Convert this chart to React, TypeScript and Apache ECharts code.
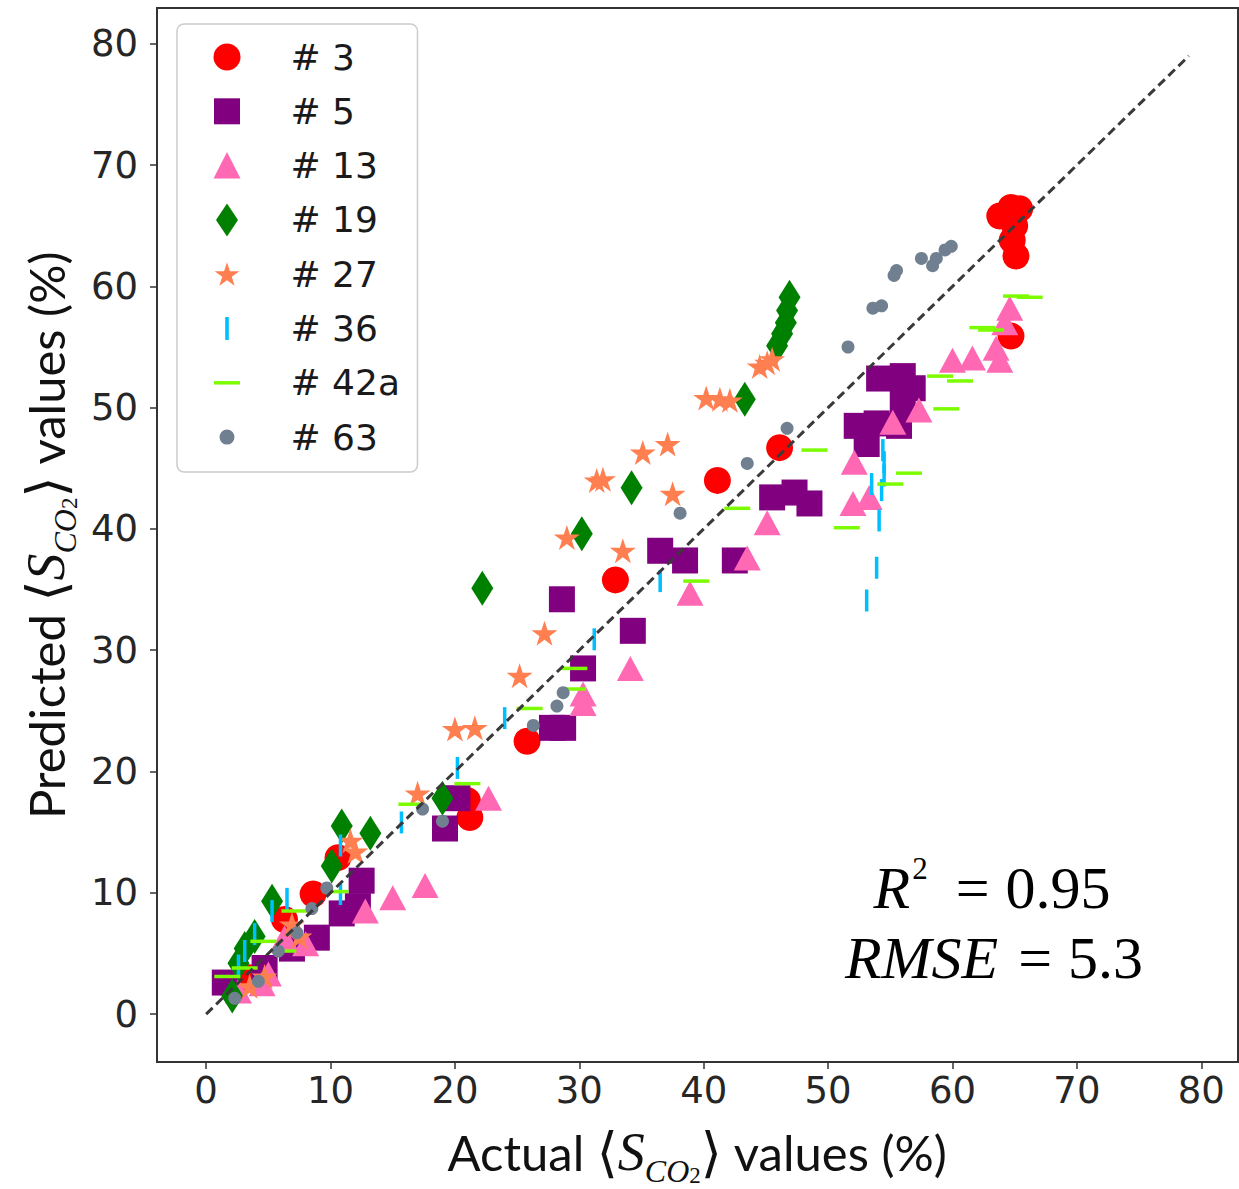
import React, { useEffect, useRef } from "react";
import * as echarts from "echarts";

// ---------------- data ----------------
const tickValues = [0, 10, 20, 30, 40, 50, 60, 70, 80];
const axisMin = -3.95;
const axisMax = 82.95;
const diagonal = [[0, 0], [79, 79]];

const names = ["# 3", "# 5", "# 13", "# 19", "# 27", "# 36", "# 42a", "# 63"];
const colors = ["#ff0000", "#800080", "#ff69b4", "#008000", "#ff7f50", "#00bfff", "#7cfc00", "#708090"];

const s3 = [
  [63.8, 65.8], [64.7, 66.5], [65.4, 66.4], [65.0, 65.0], [64.8, 63.8], [65.1, 62.5], [64.7, 55.9],
  [46.1, 46.7], [41.1, 44.0], [32.9, 35.8], [25.8, 22.5], [21.2, 16.2], [21.0, 17.6],
  [10.6, 12.9], [8.6, 9.9], [6.3, 7.8], [3.5, 3.0],
];
const s5 = [
  [54.1, 52.4], [56.0, 52.6], [56.8, 51.6], [56.0, 50.6], [52.3, 48.5], [53.9, 48.7], [53.1, 47.0], [55.7, 48.5],
  [45.5, 42.6], [47.3, 43.0], [48.5, 42.1], [36.5, 38.2], [38.5, 37.4], [42.5, 37.4],
  [28.6, 34.2], [34.3, 31.6], [30.3, 28.5], [27.8, 23.6], [28.7, 23.6], [20.2, 17.8], [19.2, 15.3],
  [12.5, 11.0], [12.2, 8.9], [10.9, 8.3], [8.9, 6.3], [6.9, 5.4], [4.7, 3.8], [1.5, 2.6],
];
const s13 = [
  [64.6, 58.2], [64.2, 57.0], [63.8, 53.9], [63.5, 54.9], [61.6, 54.1], [60.0, 53.9], [57.3, 49.8], [55.2, 48.8],
  [52.1, 45.5], [52.0, 42.1], [53.3, 42.6], [45.1, 40.5], [43.5, 37.6], [38.9, 34.7], [34.1, 28.5],
  [30.3, 26.4], [30.3, 25.6], [22.7, 17.8], [17.6, 10.6], [15.0, 9.6], [12.8, 8.5], [8.0, 5.8],
  [6.3, 6.3], [5.0, 3.3], [4.5, 2.5], [2.6, 1.9],
];
const s19 = [
  [46.9, 59.1], [46.7, 58.0], [46.6, 57.0], [46.3, 56.1], [45.9, 55.1], [43.3, 50.7], [34.2, 43.4],
  [30.2, 39.6], [22.2, 35.1], [19.0, 17.8], [13.2, 14.9], [10.9, 15.5], [10.1, 12.2], [5.3, 9.3],
  [3.9, 6.4], [3.1, 5.4], [2.6, 4.2], [2.1, 1.5],
];
const s27 = [
  [45.5, 54.0], [45.1, 53.7], [44.5, 53.4], [40.2, 50.8], [41.3, 50.7], [42.1, 50.6], [37.1, 47.0],
  [35.1, 46.3], [37.5, 42.9], [31.4, 44.0], [31.9, 44.1], [29.0, 39.3], [33.5, 38.2], [27.2, 31.4],
  [25.2, 27.9], [20.0, 23.5], [21.6, 23.6], [17.0, 18.2], [12.0, 13.4], [11.6, 14.3], [6.9, 7.4],
  [7.5, 6.4], [4.7, 3.1], [3.5, 2.3],
];
const s36 = [
  [54.4, 46.5], [54.5, 45.5], [54.5, 44.4], [54.3, 43.2], [53.5, 43.7], [54.1, 40.7], [53.9, 36.8],
  [53.1, 34.1], [36.5, 35.7], [31.2, 30.9], [24.0, 24.4], [20.2, 20.3], [15.7, 15.8], [10.8, 13.9],
  [10.8, 9.9], [6.5, 9.5], [5.3, 8.5], [3.9, 6.6], [3.1, 5.2], [2.6, 4.0],
];
const s42a = [
  [65.1, 59.2], [66.2, 59.1], [62.4, 56.6], [63.1, 56.4], [59.0, 52.6], [60.6, 52.2], [59.5, 49.9],
  [56.5, 44.6], [55.0, 43.7], [51.5, 40.1], [48.9, 46.5], [42.7, 41.7], [39.4, 35.7], [29.6, 28.5],
  [29.5, 26.8], [26.0, 25.2], [21.0, 19.0], [16.5, 17.3], [10.4, 10.1], [7.1, 8.5], [6.2, 5.2],
  [4.6, 6.0], [3.1, 3.8], [1.7, 3.1],
];
const s63 = [
  [51.6, 55.0], [53.6, 58.2], [54.3, 58.4], [55.3, 60.9], [55.5, 61.3], [57.5, 62.3], [58.4, 61.7],
  [58.7, 62.3], [59.4, 63.0], [59.9, 63.3], [46.7, 48.3], [43.5, 45.4], [38.1, 41.3], [28.7, 26.5],
  [28.2, 25.4], [26.3, 23.8], [17.4, 16.9], [19.0, 15.9], [9.7, 10.4], [8.5, 8.7], [7.3, 6.7],
  [5.8, 5.2], [4.2, 2.7], [2.3, 1.3],
];
const seriesData = [s3, s5, s13, s19, s27, s36, s42a, s63];

// ---------------- symbols ----------------
function starPts(cx: number, cy: number, R: number, r: number) {
  const parts: string[] = [];
  for (let i = 0; i < 10; i++) {
    const a = (-90 + i * 36) * Math.PI / 180;
    const rad = i % 2 === 0 ? R : r;
    const x = (cx + rad * Math.cos(a)).toFixed(3);
    const y = (cy + rad * Math.sin(a)).toFixed(3);
    parts.push((i === 0 ? "M" : "L") + x + " " + y);
  }
  return parts.join("") + "Z";
}
const starSymbol = "path://" + starPts(0, 0, 10, 3.82);
const vlineSymbol = "path://M0 0H1V10H0Z";
const hlineSymbol = "path://M0 0H10V1H0Z";

const symbols: any[] = ["circle", "rect", "triangle", "diamond", starSymbol, vlineSymbol, hlineSymbol, "circle"];
const symbolSizes: any[] = [27, 26, [27, 25], [22, 35], [26, 25], [3.5, 22], [26, 3.5], 13];

// legend icon box: 72 x 33, glyph drawn in the left 27px
const anchor = "M0 0M72 33";
const legendIcons = [
  "M0 16.5A13.5 13.5 0 1 1 27 16.5A13.5 13.5 0 1 1 0 16.5Z",
  "M0.5 3.5H26.5V29.5H0.5Z",
  "M13.5 3L27 29.5H0Z",
  "M13.5 0L24.5 16.5L13.5 33L2.5 16.5Z",
  starPts(13.5, 17.5, 13, 5),
  "M11.7 5H15.3V28H11.7Z",
  "M0.5 14.75H26.5V18.25H0.5Z",
  "M6 16.5A7.5 7.5 0 1 1 21 16.5A7.5 7.5 0 1 1 6 16.5Z",
].map((p) => "path://" + anchor + p);

// ---------------- text styles ----------------
function titleRich(size: number) {
  return {
    t: { fontFamily: "Lato", fontSize: size, color: "#111", lineHeight: 70 },
    b: { fontFamily: "DejaVu Sans", fontSize: 54, color: "#111", lineHeight: 70 },
    s: { fontFamily: "Liberation Serif", fontStyle: "italic", fontSize: 54, color: "#111", lineHeight: 70 },
    c: { fontFamily: "Liberation Serif", fontStyle: "italic", fontSize: 32, color: "#111", lineHeight: 36, verticalAlign: "bottom" },
    n: { fontFamily: "Liberation Serif", fontSize: 23, color: "#111", lineHeight: 17, verticalAlign: "bottom" },
  };
}

function annRich(leftGap: number, rightGap: number) {
  return {
    i: { fontFamily: "Liberation Serif", fontStyle: "italic", fontSize: 60, color: "#000", lineHeight: 70 },
    p: { fontFamily: "Liberation Serif", fontSize: 31, color: "#000", lineHeight: 52, verticalAlign: "top", padding: [0, 0, 0, 2] },
    e: { fontFamily: "Liberation Serif", fontSize: 60, color: "#000", lineHeight: 70, padding: [0, rightGap, 0, leftGap] },
    n: { fontFamily: "Liberation Serif", fontSize: 60, color: "#000", lineHeight: 70 },
  };
}

export default function App() {
  const ref = useRef<HTMLDivElement>(null);
  useEffect(() => {
    if (!ref.current) return;
    const chart = echarts.init(ref.current, null, { renderer: "svg" });
    const axisCommon = {
      type: "value",
      min: axisMin,
      max: axisMax,
      axisLine: { show: true, onZero: false, lineStyle: { color: "#333", width: 2 } },
      axisTick: { show: true, inside: false, length: 7, lineStyle: { color: "#333", width: 1.5 }, customValues: tickValues },
      axisLabel: { customValues: tickValues, fontFamily: "DejaVu Sans", fontSize: 37, color: "#262626" },
      splitLine: { show: false },
      nameLocation: "middle",
      nameMoveOverlap: false,
    };
    const option: any = {
      animation: false,
      backgroundColor: "#ffffff",
      grid: {
        left: 157, top: 8, right: 1, bottom: 127,
        show: true, borderColor: "#333", borderWidth: 2, backgroundColor: "transparent",
        containLabel: false, outerBoundsMode: "none",
      },
      xAxis: {
        ...axisCommon,
        axisLabel: { ...axisCommon.axisLabel, margin: 10 },
        name: "{t|Actual }{b|⟨}{s|S}{c|CO}{n|2}{b|⟩}{t| values (%)}",
        nameGap: 55,
        nameTextStyle: { rich: titleRich(49) },
      },
      yAxis: {
        ...axisCommon,
        axisLabel: { ...axisCommon.axisLabel, margin: 19 },
        name: "{t|Predicted }{b|⟨}{s|S}{c|CO}{n|2}{b|⟩}{t| values (%)}",
        nameGap: 76,
        nameTextStyle: { rich: titleRich(49) },
      },
      legend: {
        orient: "vertical",
        left: 177,
        top: 24,
        padding: [15, 17.5, 17, 36.5],
        itemWidth: 72,
        itemHeight: 33,
        itemGap: 18.3,
        selectedMode: false,
        backgroundColor: "rgba(255,255,255,0.8)",
        borderColor: "#cccccc",
        borderWidth: 1.5,
        borderRadius: 7,
        textStyle: { fontFamily: "DejaVu Sans", fontSize: 36, color: "#1a1a1a", lineHeight: 36 },
        itemStyle: { borderWidth: 0 },
        data: names.map((n, i) => ({ name: n, icon: legendIcons[i] })),
      },
      graphic: [
        {
          type: "text", x: 992, y: 888, z: 10,
          style: { text: "{i|R}{p|2}{e|=}{n|0.95}", rich: annRich(28, 16), align: "center", verticalAlign: "middle", textAlign: "center", textVerticalAlign: "middle" },
        },
        {
          type: "text", x: 994, y: 958, z: 10,
          style: { text: "{i|RMSE}{e|=}{n|5.3}", rich: annRich(20, 16), align: "center", verticalAlign: "middle", textAlign: "center", textVerticalAlign: "middle" },
        },
      ],
      series: [
        ...names.map((n, i) => ({
          type: "scatter",
          name: n,
          data: seriesData[i],
          symbol: symbols[i],
          symbolSize: symbolSizes[i],
          itemStyle: { color: colors[i], opacity: 1 },
          z: 2,
          silent: true,
        })),
        {
          type: "line",
          data: diagonal,
          symbol: "none",
          lineStyle: { color: "#3a3a3a", width: 3, type: [9, 5] },
          z: 5,
          silent: true,
        },
      ],
    };
    chart.setOption(option);
    return () => chart.dispose();
  }, []);
  return <div ref={ref} style={{ position: "absolute", left: 0, top: 0, width: 1239, height: 1189 }} />;
}
